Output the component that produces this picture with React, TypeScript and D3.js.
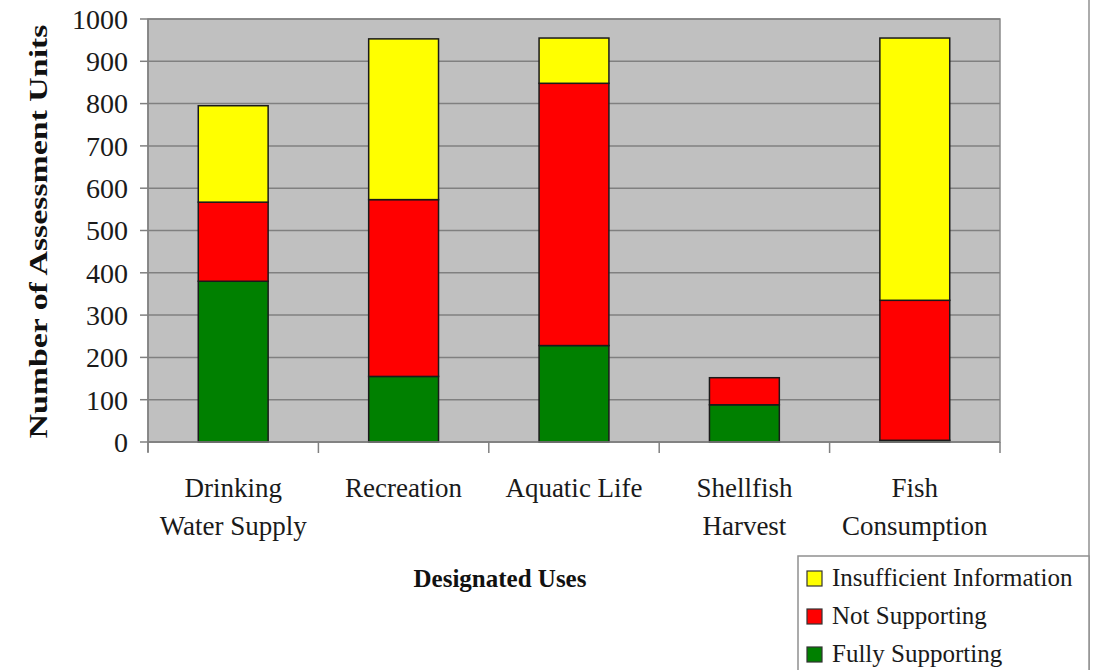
import { useMemo } from "react";
import { scaleBand, scaleLinear, stack } from "d3";

const categories = [
  "Drinking Water Supply",
  "Recreation",
  "Aquatic Life",
  "Shellfish Harvest",
  "Fish Consumption",
];
const categoryLines = [
  ["Drinking", "Water Supply"],
  ["Recreation"],
  ["Aquatic Life"],
  ["Shellfish", "Harvest"],
  ["Fish", "Consumption"],
];
const fullySupporting = [380, 155, 228, 88, 4];
const notSupporting = [187, 418, 620, 64, 331];
const insufficientInfo = [228, 380, 107, 0, 620];
const yTicks = [0, 100, 200, 300, 400, 500, 600, 700, 800, 900, 1000];

const seriesKeys = ["fully", "not", "insufficient"];
const seriesColors: Record<string, string> = {
  fully: "#008000",
  not: "#ff0000",
  insufficient: "#ffff00",
};
const legendItems = [
  { key: "insufficient", label: "Insufficient Information" },
  { key: "not", label: "Not Supporting" },
  { key: "fully", label: "Fully Supporting" },
];

const W = 1096;
const H = 670;
const plot = { left: 148, right: 1000, top: 19, bottom: 442 };
const FONT = "'Liberation Serif', 'Times New Roman', serif";
const TEXT = "#1a1a1a";

export default function App() {
  const x = scaleBand<string>()
    .domain(categories)
    .range([plot.left, plot.right])
    .padding(0);
  const y = scaleLinear().domain([0, 1000]).range([plot.bottom, plot.top]);
  const barW = x.bandwidth() * 0.41;

  const rows = useMemo(
    () =>
      categories.map((c, i) => ({
        cat: c,
        fully: fullySupporting[i],
        not: notSupporting[i],
        insufficient: insufficientInfo[i],
      })),
    [],
  );
  const layers = stack<any>().keys(seriesKeys)(rows);

  const bandEdges = [...categories.map((c) => x(c) as number), plot.right];

  return (
    <svg
      width={W}
      height={H}
      style={{ position: "absolute", left: 0, top: 0, background: "#fff" }}
      fontFamily={FONT}
    >
      {/* plot background */}
      <rect
        x={plot.left}
        y={plot.top}
        width={plot.right - plot.left}
        height={plot.bottom - plot.top}
        fill="#c0c0c0"
        stroke="#8a8a8a"
        strokeWidth={1.5}
      />
      {/* gridlines */}
      {yTicks.map((t) => (
        <line
          key={t}
          x1={plot.left}
          x2={plot.right}
          y1={y(t)}
          y2={y(t)}
          stroke="#808080"
          strokeWidth={1.5}
        />
      ))}
      {/* bars */}
      {layers.map((layer) => (
        <g key={layer.key} fill={seriesColors[layer.key]}>
          {layer.map((d, i) =>
            d[1] - d[0] > 0 ? (
              <rect
                key={i}
                x={(x(d.data.cat) as number) + (x.bandwidth() - barW) / 2}
                y={y(d[1])}
                width={barW}
                height={y(d[0]) - y(d[1])}
                stroke="#1a1a1a"
                strokeWidth={1.5}
              />
            ) : null,
          )}
        </g>
      ))}
      {/* axes */}
      <line
        x1={plot.left}
        x2={plot.left}
        y1={plot.top}
        y2={plot.bottom + 10}
        stroke="#808080"
        strokeWidth={1.5}
      />
      <line
        x1={plot.left}
        x2={plot.right}
        y1={plot.bottom}
        y2={plot.bottom}
        stroke="#808080"
        strokeWidth={1.5}
      />
      {yTicks.map((t) => (
        <g key={t}>
          <line
            x1={plot.left - 8}
            x2={plot.left}
            y1={y(t)}
            y2={y(t)}
            stroke="#808080"
            strokeWidth={1.5}
          />
          <text
            x={plot.left - 20}
            y={y(t)}
            dy="0.35em"
            textAnchor="end"
            fontSize={28}
            fill={TEXT}
          >
            {t}
          </text>
        </g>
      ))}
      {bandEdges.map((e, i) => (
        <line
          key={i}
          x1={e}
          x2={e}
          y1={plot.bottom}
          y2={plot.bottom + 11}
          stroke="#808080"
          strokeWidth={1.5}
        />
      ))}
      {categories.map((c, i) => (
        <text
          key={c}
          x={(x(c) as number) + x.bandwidth() / 2}
          textAnchor="middle"
          fontSize={27}
          fill={TEXT}
        >
          {categoryLines[i].map((ln, j) => (
            <tspan key={j} x={(x(c) as number) + x.bandwidth() / 2} y={497 + j * 38}>
              {ln}
            </tspan>
          ))}
        </text>
      ))}
      {/* axis titles */}
      <text
        transform={`translate(47,${(plot.top + plot.bottom) / 2 + 1}) rotate(-90)`}
        textAnchor="middle"
        fontSize={25}
        fontWeight="bold"
        fill="#111"
        textLength={414}
        lengthAdjust="spacingAndGlyphs"
      >
        Number of Assessment Units
      </text>
      <text
        x={500}
        y={587}
        textAnchor="middle"
        fontSize={25}
        fontWeight="bold"
        fill="#111"
      >
        Designated Uses
      </text>
      {/* outer frame and legend */}
      <line x1={1089} x2={1089} y1={0} y2={H} stroke="#909090" strokeWidth={1.5} />
      <rect
        x={798}
        y={556}
        width={291}
        height={130}
        fill="#fff"
        stroke="#909090"
        strokeWidth={1.5}
      />
      {legendItems.map((it, i) => (
        <g key={it.key} transform={`translate(807,${571 + i * 38})`}>
          <rect
            width={15}
            height={15}
            fill={seriesColors[it.key]}
            stroke="#333"
            strokeWidth={1.2}
          />
          <text x={25} y={15} fontSize={25} fill={TEXT}>
            {it.label}
          </text>
        </g>
      ))}
    </svg>
  );
}
